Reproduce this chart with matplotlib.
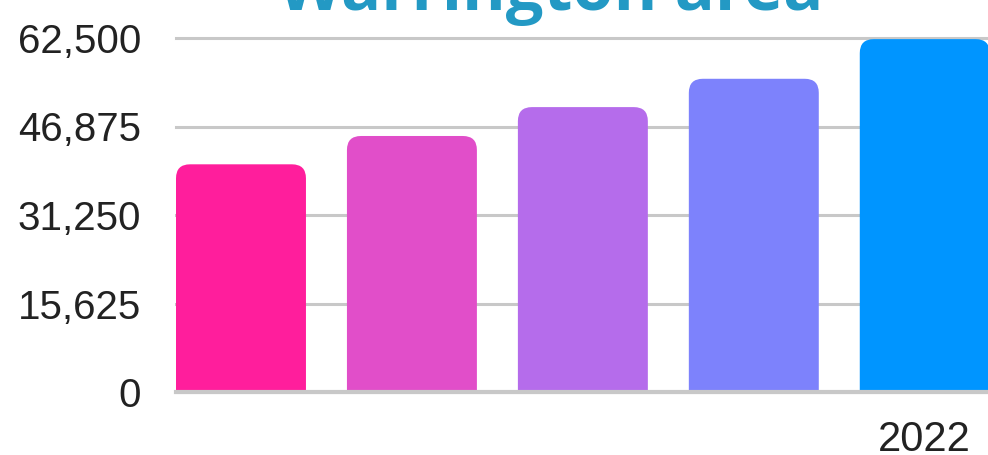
import numpy as np
import matplotlib.pyplot as plt
from matplotlib.patches import FancyBboxPatch
from matplotlib.ticker import FuncFormatter

# --- Datos ---
years = ["2018", "2019", "2020", "2021", "2022"]
values = [40200, 45200, 50300, 55300, 62300]
colors = ["#ff1e9c", "#e14ec9", "#b56ceb", "#7d82fc", "#0095ff"]
yticks = [0, 15625, 31250, 46875, 62500]
title = "Warrington area"

W, H, DPI = 988, 455, 100
fig = plt.figure(figsize=(W / DPI, H / DPI), dpi=DPI)
# eje: izquierda en x=176 px, base en y=392 px, arriba en y=20 px
ax = fig.add_axes([176 / W, (H - 392) / H, 1 - 176 / W, (392 - 20) / H])

BAR_W = 130 / 171
x = np.arange(len(years))
ax.set_xlim(-BAR_W / 2, 4.37)
ax.set_ylim(0, 62500 * 372 / 354)

# esquinas redondeadas solo arriba: la caja baja por debajo de 0 y se recorta
radius_px = 14
px_x = (ax.get_xlim()[1] - ax.get_xlim()[0]) / (W - 176)
px_y = (ax.get_ylim()[1] - ax.get_ylim()[0]) / 372
r = radius_px * px_x
aspect = px_y / px_x
for xi, v, c in zip(x, values, colors):
    below = radius_px * px_y * 2
    p = FancyBboxPatch((xi - BAR_W / 2, -below), BAR_W, v + below,
                       boxstyle=f"round,pad=0,rounding_size={r}",
                       mutation_aspect=aspect, facecolor=c, edgecolor="none",
                       zorder=3)
    ax.add_patch(p)

for t in yticks:
    ax.axhline(t, color="#c8c8c8", lw=2.2, zorder=1, clip_on=False)
ax.axhline(0, color="#c8c8c8", lw=3, zorder=4, clip_on=False)

ax.set_yticks(yticks)
ax.yaxis.set_major_formatter(FuncFormatter(lambda v, _: f"{int(v):,}"))
ax.set_xticks([x[-1]])
ax.set_xticklabels([years[-1]])
ax.tick_params(axis="y", length=0, pad=25, labelsize=29, labelcolor="#222222")
ax.tick_params(axis="x", length=0, pad=20, labelsize=30, labelcolor="#222222")
for lab in ax.get_xticklabels() + ax.get_yticklabels():
    lab.set_fontfamily("Liberation Sans")
for s in ax.spines.values():
    s.set_visible(False)

fig.text(551 / W, 1 - 10 / H, title, ha="center", va="baseline",
         fontsize=48, fontweight="bold", color="#2399c4", family="Open Sans")

fig.savefig("out.png", dpi=DPI)
